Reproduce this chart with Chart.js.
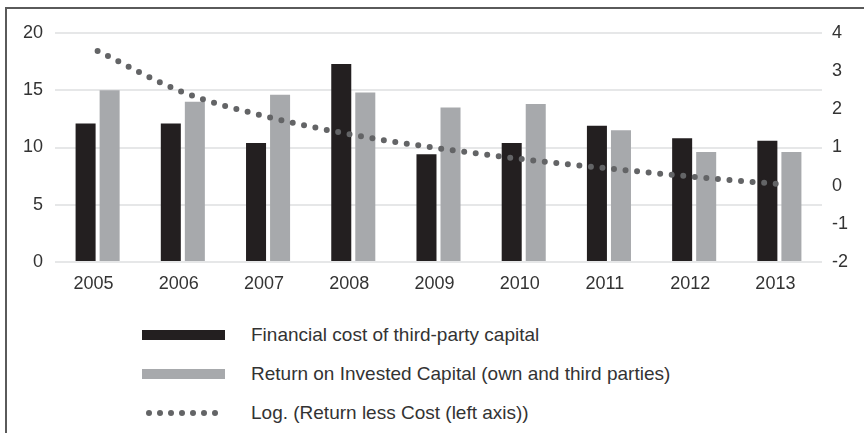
<!DOCTYPE html>
<html>
<head>
<meta charset="utf-8">
<script src="https://cdn.jsdelivr.net/npm/chart.js@4"></script>
<style>
  html, body { margin: 0; padding: 0; background: #fff; }
  body { width: 864px; height: 433px; position: relative; overflow: hidden; font-family: "Liberation Sans", Arial, sans-serif; }
  #frameTop { position: absolute; left: 5px; top: 7px; width: 859px; height: 1.5px; background: #5a5a5a; }
  #frameLeft { position: absolute; left: 5px; top: 7px; width: 1.5px; height: 426px; background: #5a5a5a; }
  #wrap { position: absolute; left: 0; top: 0; width: 864px; height: 300px; }
  .lg { position: absolute; left: 0; height: 20px; width: 864px; }
  .sw { position: absolute; left: 142px; width: 83px; height: 10px; top: 5px; }
  .tx { position: absolute; left: 251px; top: -2px; font-size: 19px; color: #333; white-space: nowrap; line-height: 24px; }
  .dots { position: absolute; left: 146px; top: 7px; display: flex; gap: 5px; }
  .dots span { width: 6px; height: 6px; border-radius: 50%; display: block; }
</style>
</head>
<body>
<div id="frameTop"></div>
<div id="frameLeft"></div>
<div id="wrap"><canvas id="c" width="864" height="300"></canvas></div>
<div id="legend"></div>
<script>
const years = ["2005","2006","2007","2008","2009","2010","2011","2012","2013"];
const financialCost = [12.1, 12.1, 10.4, 17.3, 9.4, 10.4, 11.9, 10.8, 10.6];
const returnInvested = [15.0, 14.0, 14.6, 14.8, 13.5, 13.8, 11.5, 9.6, 9.6];
const logReturnLessCost = [3.53, 2.45, 1.80, 1.33, 0.98, 0.69, 0.45, 0.23, 0.04];
const seriesLabels = ["Financial cost of third-party capital", "Return on Invested Capital (own and third parties)", "Log. (Return less Cost (left axis))"];
const leftTicks = [0, 5, 10, 15, 20];
const rightTicks = [-2, -1, 0, 1, 2, 3, 4];

const colBlack = "#231f20", colGray = "#a7a9ac", colDots = "#636466";
const tickFont = { family: "Liberation Sans", size: 18 };

new Chart(document.getElementById("c"), {
  data: {
    labels: years,
    datasets: [
      { type: "line", label: seriesLabels[2], data: logReturnLessCost, yAxisID: "y1",
        borderColor: colDots, borderWidth: 6, borderDash: [0, 11.6], borderCapStyle: "round",
        pointRadius: 0, tension: 0.4, cubicInterpolationMode: "monotone", fill: false, order: 0 },
      { type: "bar", label: seriesLabels[0], data: financialCost, yAxisID: "y",
        backgroundColor: colBlack, categoryPercentage: 0.564, barPercentage: 0.833, order: 1 },
      { type: "bar", label: seriesLabels[1], data: returnInvested, yAxisID: "y",
        backgroundColor: colGray, categoryPercentage: 0.564, barPercentage: 0.833, order: 1 }
    ]
  },
  options: {
    responsive: false, animation: false, devicePixelRatio: 1,
    layout: { padding: { top: 33, left: 0, right: 0, bottom: 0 } },
    plugins: { legend: { display: false }, tooltip: { enabled: false } },
    scales: {
      x: {
        grid: { display: false }, border: { display: false },
        ticks: { font: tickFont, color: "#333", padding: 3, labelOffset: -4, maxRotation: 0 },
        afterFit: s => { s.height = 38; }
      },
      y: {
        position: "left", min: 0, max: 20,
        afterBuildTicks: s => { s.ticks = leftTicks.map(v => ({ value: v })); },
        grid: { color: "#e6e7e8", lineWidth: 2, drawTicks: false }, border: { display: false },
        ticks: { font: tickFont, color: "#333", padding: 12 },
        afterFit: s => { s.width = 55; }
      },
      y1: {
        position: "right", min: -2, max: 4,
        afterBuildTicks: s => { s.ticks = rightTicks.map(v => ({ value: v })); },
        grid: { display: false, drawTicks: false }, border: { display: false },
        ticks: { font: tickFont, color: "#333", padding: 10 },
        afterFit: s => { s.width = 42; }
      }
    }
  }
});

// HTML legend
const lg = document.getElementById("legend");
const rowsY = [325, 364, 403];
seriesLabels.forEach((lab, i) => {
  const row = document.createElement("div");
  row.className = "lg"; row.style.top = rowsY[i] + "px";
  if (i < 2) {
    const sw = document.createElement("div");
    sw.className = "sw"; sw.style.background = i === 0 ? colBlack : colGray;
    row.appendChild(sw);
  } else {
    const d = document.createElement("div"); d.className = "dots";
    for (let k = 0; k < 7; k++) { const s = document.createElement("span"); s.style.background = colDots; d.appendChild(s); }
    row.appendChild(d);
  }
  const t = document.createElement("div"); t.className = "tx"; t.textContent = lab;
  row.appendChild(t);
  lg.appendChild(row);
});
</script>
</body>
</html>
